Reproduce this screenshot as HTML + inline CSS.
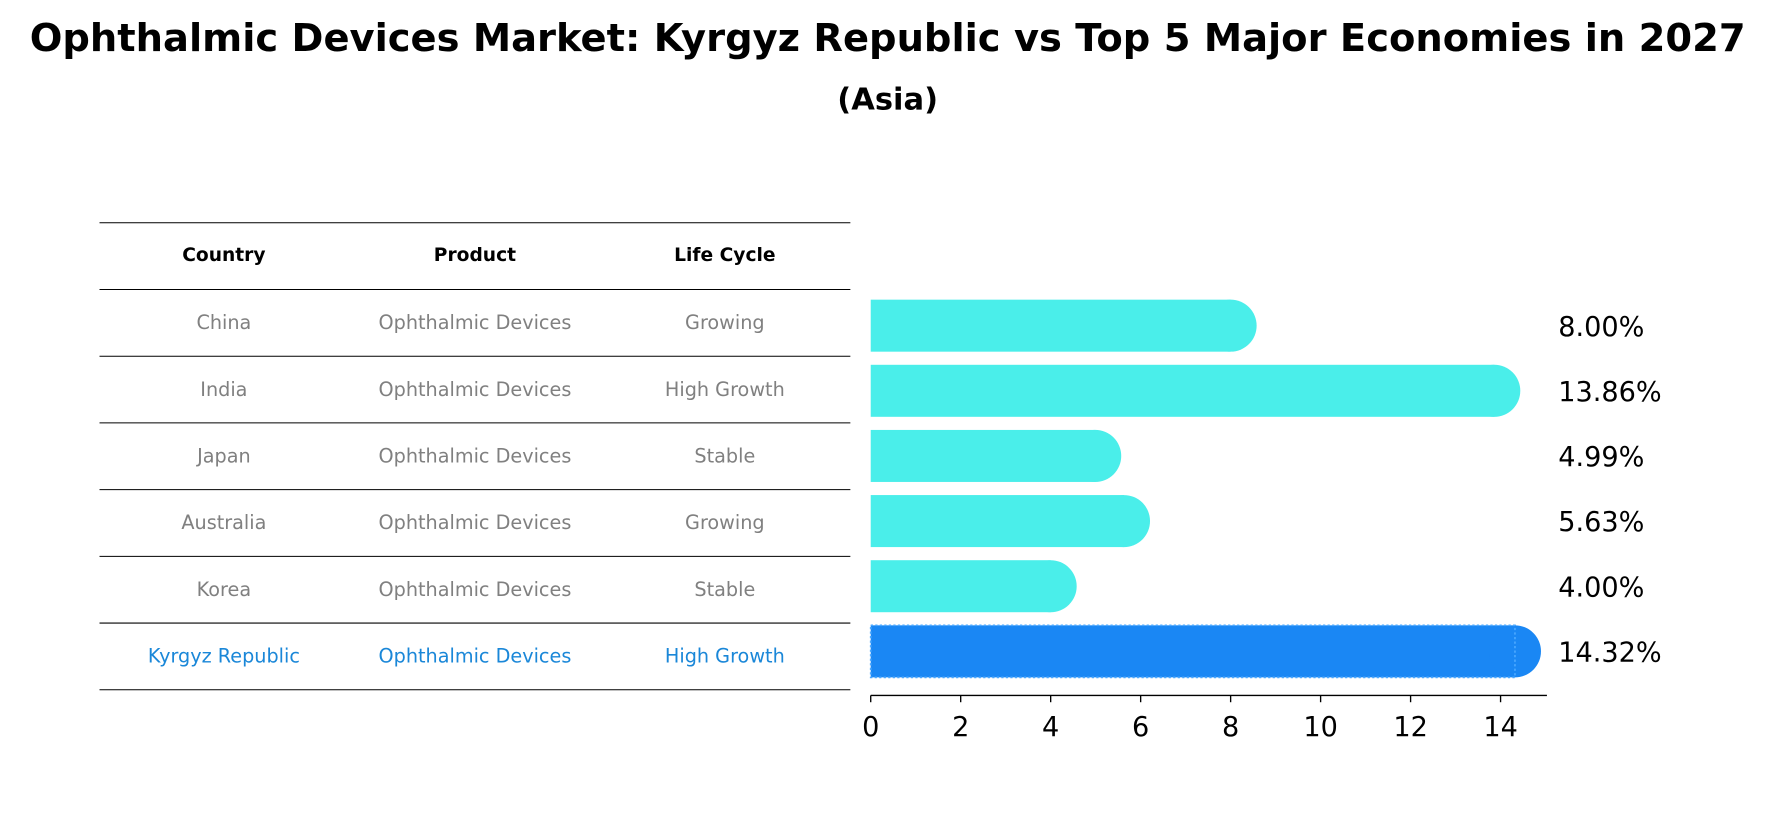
<!DOCTYPE html>
<html><head><meta charset="utf-8"><style>
body{margin:0;background:#fff;font-family:"Liberation Sans","DejaVu Sans",sans-serif;}
svg text{font-family:"DejaVu Sans","Liberation Sans",sans-serif;}
</style></head><body>
<svg id="chart" width="1773" height="823" xmlns="http://www.w3.org/2000/svg">
<g transform="scale(1.1308)">
<text x="785" y="45" text-anchor="middle" font-size="34" font-weight="bold">Ophthalmic Devices Market: Kyrgyz Republic vs Top 5 Major Economies in 2027</text>
<text x="785" y="97" text-anchor="middle" font-size="27" font-weight="bold">(Asia)</text>
<g id="table"></g>
<g id="bars"></g>
</g>
</svg>
<script>
const countries=["China","India","Japan","Australia","Korea","Kyrgyz Republic"];
const products=["Ophthalmic Devices","Ophthalmic Devices","Ophthalmic Devices","Ophthalmic Devices","Ophthalmic Devices","Ophthalmic Devices"];
const lifeCycles=["Growing","High Growth","Stable","Growing","Stable","High Growth"];
const values=[8.00,13.86,4.99,5.63,4.00,14.32];
const ticks=[0,2,4,6,8,10,12,14];
const NS="http://www.w3.org/2000/svg";
function mk(tag,attrs,parent,text){const e=document.createElementNS(NS,tag);for(const k in attrs)e.setAttribute(k,attrs[k]);if(text!==undefined)e.textContent=text;parent.appendChild(e);return e;}
const x0=770,scale=(1327-770)/14;
const xs=v=>x0+v*scale;
const rowY=i=>288+i*57.6;
const tbl=document.getElementById('table');
const lineYs=[197,256,315,374,433,492,551,610];
lineYs.forEach((y,i)=>{const l=mk('line',{x1:88,x2:752,y1:y,y2:y,stroke:'#000','stroke-width':0.9},tbl);

});
const colX=[198,420,641];
["Country","Product","Life Cycle"].forEach((h,j)=>{const t=mk('text',{x:colX[j],y:231,'text-anchor':'middle','font-size':16.5,'font-weight':'bold'},tbl,h);

});
countries.forEach((c,i)=>{const y=285+i*59+6;const col=i===countries.length-1?'#1a87d8':'#808080';
[c,products[i],lifeCycles[i]].forEach((s,j)=>{const t=mk('text',{x:colX[j],y:y,'text-anchor':'middle','font-size':17,fill:col},tbl,s);

});});
const bars=document.getElementById('bars');
const h=46,r=23;
values.forEach((v,i)=>{const y=rowY(i);const last=i===values.length-1;const col=last?'#1a87f4':'#4aeeea';
const g=mk('g',{},bars);


mk('rect',{x:x0,y:y-h/2,width:xs(v)-x0,height:h,fill:col},g);
mk('circle',{cx:xs(v),cy:y,r:r,fill:col},g);
if(last)mk('rect',{x:x0,y:y-h/2,width:xs(v)-x0,height:h,fill:'none',stroke:'#4aa8ff','stroke-width':1.5,'stroke-dasharray':'2,2'},g);
const t=mk('text',{x:1378,y:y+9,'font-size':24},bars,v.toFixed(2)+'%');

});
const ax=mk('line',{x1:x0,x2:1368,y1:615,y2:615,stroke:'#000','stroke-width':1.2},bars);


ticks.forEach(tv=>{mk('line',{x1:xs(tv),x2:xs(tv),y1:615,y2:621,stroke:'#000','stroke-width':1.2},bars);
const t=mk('text',{x:xs(tv),y:651,'text-anchor':'middle','font-size':24},bars,String(tv));

});
</script>
</body></html>
